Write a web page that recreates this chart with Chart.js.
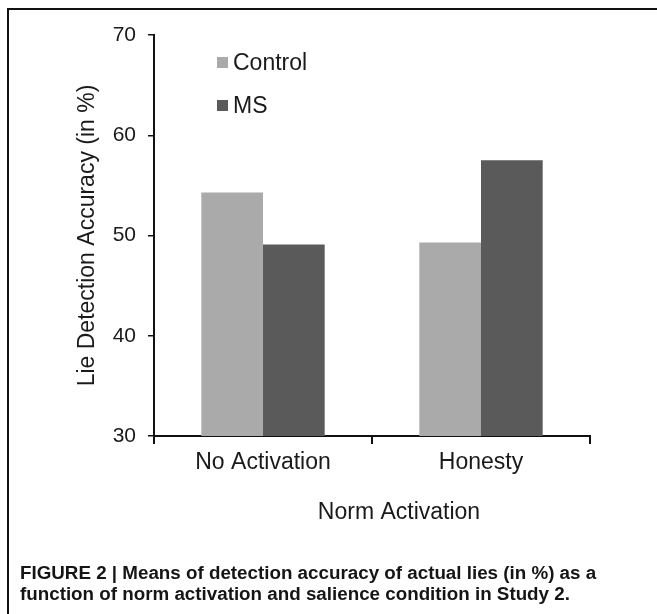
<!DOCTYPE html>
<html>
<head>
<meta charset="utf-8">
<script src="https://cdn.jsdelivr.net/npm/chart.js@4.4.1/dist/chart.umd.min.js"></script>
<style>
  html, body { margin: 0; padding: 0; background: #fff; }
  #wrap { position: relative; width: 657px; height: 614px; overflow: hidden; background: #fff; }
  #c { position: absolute; left: 0; top: 0; }
  .bt { position: absolute; left: 7px; top: 8px; width: 650px; height: 2px; background: #111; }
  .bl { position: absolute; left: 7px; top: 8px; width: 2px; height: 606px; background: #111; }
  #cap { position: absolute; left: 20px; top: 562px; width: 630px;
         font-family: "Liberation Sans", Arial, sans-serif; font-weight: bold;
         font-size: 18.8px; line-height: 21px; color: #151515; white-space: nowrap; }
</style>
</head>
<body>
<div id="wrap">
  <canvas id="c" width="657" height="614"></canvas>
  <div class="bt"></div>
  <div class="bl"></div>
  <div id="cap">FIGURE 2 | Means of detection accuracy of actual lies (in %) as a<br>function of norm activation and salience condition in Study 2.</div>
</div>
<script>
const categories = ['No Activation', 'Honesty'];
const seriesNames = ['Control', 'MS'];
const controlValues = [54.3, 49.3];
const msValues = [49.1, 57.5];
const yTicks = [30, 40, 50, 60, 70];
const yTitle = 'Lie Detection Accuracy (in %)';
const xTitle = 'Norm Activation';

const FONT = '"Liberation Sans", Arial, sans-serif';
const TEXT = '#1a1a1a';

const overlay = {
  id: 'overlay',
  afterDraw(chart) {
    const { ctx, chartArea: ca } = chart;
    ctx.save();
    ctx.font = '23px ' + FONT;
    chart.data.datasets.forEach((ds, i) => {
      const y = ca.top + 22 + i * 43;
      ctx.fillStyle = ds.backgroundColor;
      ctx.fillRect(ca.left + 63, y, 11, 11);
      ctx.fillStyle = TEXT;
      ctx.textAlign = 'left';
      ctx.textBaseline = 'alphabetic';
      ctx.fillText(ds.label, ca.left + 79, y + 13);
    });
    ctx.textAlign = 'center';
    ctx.textBaseline = 'alphabetic';
    ctx.fillStyle = TEXT;
    ctx.fillText(xTitle, (ca.left + ca.right) / 2 + 27, ca.bottom + 83);
    ctx.restore();
  }
};

new Chart(document.getElementById('c'), {
  type: 'bar',
  data: {
    labels: categories,
    datasets: [
      { label: seriesNames[0], data: controlValues, backgroundColor: '#aaaaaa', borderWidth: 0 },
      { label: seriesNames[1], data: msValues, backgroundColor: '#5a5a5a', borderWidth: 0 }
    ]
  },
  options: {
    responsive: false,
    animation: false,
    devicePixelRatio: 1,
    layout: { padding: { left: 0, top: 35, right: 67, bottom: 0 } },
    datasets: { bar: { barPercentage: 1.0, categoryPercentage: 0.566 } },
    plugins: { legend: { display: false }, tooltip: { enabled: false }, title: { display: false } },
    scales: {
      x: {
        grid: { display: true, offset: true, drawOnChartArea: false, drawTicks: true, tickLength: 8, color: '#111', lineWidth: 2 },
        border: { display: true, color: '#111', width: 2 },
        ticks: { color: TEXT, font: { family: FONT, size: 23 }, padding: 5 },
        afterFit(scale) { scale.height = 178; }
      },
      y: {
        min: 30, max: 70,
        afterBuildTicks(scale) { scale.ticks = yTicks.map(v => ({ value: v })); },
        grid: { display: true, drawOnChartArea: false, drawTicks: true, tickLength: 6, color: '#111', lineWidth: 1.5 },
        border: { display: true, color: '#111', width: 2 },
        ticks: { color: TEXT, font: { family: FONT, size: 21 }, padding: 12 },
        title: { display: true, text: yTitle, color: TEXT, font: { family: FONT, size: 23 }, padding: { top: 74, bottom: 0 } },
        afterFit(scale) { scale.width = 154; }
      }
    }
  },
  plugins: [overlay]
});
</script>
</body>
</html>
